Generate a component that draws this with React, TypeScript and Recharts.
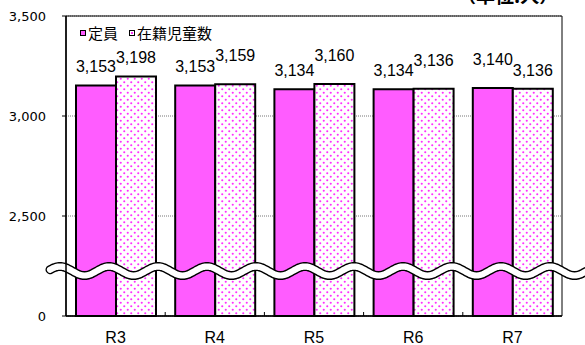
import {
  BarChart,
  Bar,
  XAxis,
  YAxis,
  CartesianGrid,
  LabelList,
  Legend,
  ReferenceLine,
  ReferenceArea,
} from 'recharts';

const years = ['R3', 'R4', 'R5', 'R6', 'R7'];
const capacity = [3153, 3153, 3134, 3134, 3140];
const enrolled = [3198, 3159, 3160, 3136, 3136];
const yTicks = [0, 2500, 3000, 3500];

const PINK = '#ff5cff';
const DOT = '#ff2eff';
const JP = '"Noto Sans CJK JP", sans-serif';
const NUM = '"Liberation Sans", Arial, sans-serif';
const AXIS = '"DejaVu Sans", sans-serif';
const X_TICK_MARGIN = 16;
const LABEL_GAP = 13;
const LABEL_LIFT = 10;

// broken axis: 0..2500 squeezed into one step, above 2500 linear
const toAxis = (v: number) => (v >= 2500 ? v - 2000 : v / 5);
const BREAK_VALUE = 1125; // where the wavy break line sits (real units)

const withCommas = (n: number) => String(n).replace(/\B(?=(\d{3})+(?!\d))/g, ',');

const data = years.map((year, i) => ({
  year,
  capacity: toAxis(capacity[i]),
  enrolled: toAxis(enrolled[i]),
}));

function yLabel(d: number) {
  const t = yTicks.find((v) => toAxis(v) === d);
  return t === undefined ? '' : withCommas(t);
}

// when the two bars of a year are nearly level, the higher one's label is
// nudged up so the two numbers don't run together
function makeLabel(own: number[], other: number[]) {
  return (props: any) => {
    const vb = props.viewBox ?? props;
    const i = props.index;
    if (vb == null || i == null) return null;
    const diff = own[i] - other[i];
    const lift = diff > 0 && diff <= 30 ? LABEL_LIFT : 0;
    return (
      <text
        x={vb.x + vb.width / 2}
        y={vb.y - LABEL_GAP - lift}
        textAnchor="middle"
        fontFamily={NUM}
        fontSize={16}
        fill="#000"
      >
        {withCommas(own[i])}
      </text>
    );
  };
}

function WaveBreak(props: any) {
  const { x1, x2, y1 } = props;
  if (x1 == null || y1 == null) return null;
  const start = x1 - 16;
  const end = x2 + 24;
  const period = 49;
  const amp = 4.5;
  const pts: string[] = [];
  for (let x = start; x <= end; x += 1) {
    const y = y1 - amp * Math.cos((2 * Math.PI * (x - (x1 - 6))) / period);
    pts.push(`${x},${y.toFixed(2)}`);
  }
  const d = 'M' + pts.join(' L');
  return (
    <g>
      <path d={d} fill="none" stroke="#000" strokeWidth={9} strokeLinecap="round" />
      <path d={d} fill="none" stroke="#fff" strokeWidth={6.2} strokeLinecap="round" />
    </g>
  );
}

function CategoryTick(props: any) {
  const { x, y, payload, index } = props;
  const half = payload?.offset ?? 0;
  const axisY = y - X_TICK_MARGIN;
  return (
    <g>
      <text x={x} y={y} dy="0.71em" textAnchor="middle" fontFamily={NUM} fontSize={16} fill="#000">
        {payload.value}
      </text>
      {index < years.length - 1 && half > 0 && (
        <line x1={x + half} x2={x + half} y1={axisY} y2={axisY - 4} stroke="#000" strokeWidth={1} />
      )}
    </g>
  );
}

function LegendContent() {
  const box = {
    display: 'inline-block',
    width: 4,
    height: 4,
    border: '1.5px solid #000',
    marginRight: 2,
    position: 'relative' as const,
  };
  return (
    <div style={{ display: 'flex', alignItems: 'center', fontFamily: JP, fontSize: 15, color: '#000', whiteSpace: 'nowrap' }}>
      <span style={{ ...box, background: PINK }} />
      <span>定員</span>
      <span style={{ ...box, background: '#fff', marginLeft: 11 }}>
        <span style={{ position: 'absolute', left: 1, top: 1, width: 2, height: 2, background: DOT }} />
      </span>
      <span>在籍児童数</span>
    </div>
  );
}

export default function App() {
  return (
    <div style={{ position: 'absolute', left: 0, top: 0, width: 585, height: 345, background: '#fff', overflow: 'hidden' }}>
      <div
        style={{
          position: 'absolute',
          left: 457,
          top: -15,
          fontFamily: JP,
          fontWeight: 700,
          fontSize: 19,
          lineHeight: '19px',
          color: '#000',
          whiteSpace: 'nowrap',
        }}
      >
        （単位:人）
      </div>
      <BarChart
        width={585}
        height={345}
        data={data}
        margin={{ top: 16, right: 23, bottom: 0, left: 0 }}
        barSize={40}
        barGap={0}
      >
        <defs>
          <pattern id="dots" width={7} height={7} patternUnits="userSpaceOnUse">
            <rect width={7} height={7} fill="#fff" />
            <circle cx={1.75} cy={1.75} r={1.05} fill={DOT} />
            <circle cx={5.25} cy={5.25} r={1.05} fill={DOT} />
          </pattern>
        </defs>
        <CartesianGrid vertical={false} stroke="#777" strokeDasharray="1 1" />
        <XAxis
          dataKey="year"
          height={29}
          tickLine={false}
          tickSize={0}
          tickMargin={X_TICK_MARGIN}
          axisLine={{ stroke: '#000', strokeWidth: 1.5 }}
          tick={<CategoryTick />}
        />
        <YAxis
          type="number"
          width={66}
          domain={[0, 1500]}
          ticks={yTicks.map(toAxis)}
          tickFormatter={yLabel}
          tickSize={4}
          tickMargin={16}
          axisLine={{ stroke: '#000', strokeWidth: 1.5 }}
          tickLine={{ stroke: '#000' }}
          tick={{ fontFamily: AXIS, fontSize: 13, fill: '#000' }}
        />
        <Legend
          layout="vertical"
          align="center"
          verticalAlign="middle"
          wrapperStyle={{ left: 80, top: 22, width: 'auto', height: 'auto' }}
          content={<LegendContent />}
        />
        <Bar dataKey="capacity" name="定員" fill={PINK} stroke="#000" strokeWidth={2} isAnimationActive={false}>
          <LabelList dataKey="capacity" content={makeLabel(capacity, enrolled)} />
        </Bar>
        <Bar dataKey="enrolled" name="在籍児童数" fill="url(#dots)" stroke="#000" strokeWidth={2} isAnimationActive={false}>
          <LabelList dataKey="enrolled" content={makeLabel(enrolled, capacity)} />
        </Bar>
        <ReferenceLine y={toAxis(BREAK_VALUE)} ifOverflow="visible" shape={<WaveBreak />} />
        <ReferenceArea y1={0} y2={1500} fill="none" stroke="#000" strokeWidth={1} ifOverflow="visible" />
      </BarChart>
    </div>
  );
}
